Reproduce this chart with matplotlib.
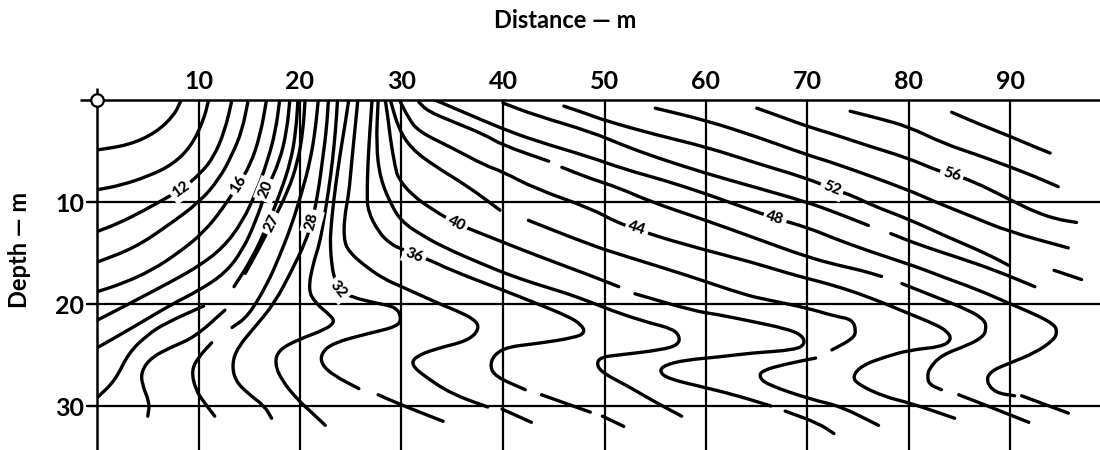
import numpy as np
import matplotlib
matplotlib.use("Agg")
import matplotlib.pyplot as plt
from matplotlib.path import Path
from matplotlib.patches import PathPatch

plt.rcParams['font.family'] = ['Lato', 'DejaVu Sans']

# grid (m)
x_grid = [0, 10, 20, 30, 40, 50, 60, 70, 80, 90]
depth_grid = [0, 10, 20, 30]
x_ticks = [10, 20, 30, 40, 50, 60, 70, 80, 90]
depth_ticks = [10, 20, 30]

# contour lines: (distance m, depth m); None = break in the line
c08 = [(8.3, 0), (7.6, 1.5), (5.8, 3.2), (3.2, 4.4), (0, 4.9)]
c10 = [(11.0, 0), (10.5, 2.0), (9.3, 4.5), (7.5, 6.3), (5.0, 7.5), (2.2, 8.4), (0, 8.8)]
c12 = [(13.3, 0), (12.6, 3.0), (11.5, 5.6), (10.2, 7.2), (8.3, 8.8), (7.0, 9.5), (4.7, 10.8),
       (2.1, 12.1), (0, 12.9)]
c14 = [(14.9, 0), (14.3, 3), (13.3, 5.4), (12.0, 7.8), (10.1, 10.0), (7.0, 12.3), (3.7, 14.5),
       (0, 15.9)]
c16 = [(16.7, 0), (16.1, 3.4), (15.1, 6.4), (13.9, 8.3), (12.5, 10.5), (10.5, 13), (8.0, 15),
       (5.4, 16.7), (2.5, 18.0), (0, 18.8)]
c18 = [(18.0, 0), (17.6, 3), (16.8, 6), (15.7, 9), (14.3, 12), (12.4, 14.5), (10, 16.3),
       (7.7, 17.6), (3.7, 19.7), (0, 21.6)]
c20 = [(19.0, 0), (18.7, 3), (18.0, 6), (16.7, 8.8), (15.6, 12), (14.3, 14.8), (12.6, 17.0),
       (10, 18.7), (7.4, 20.0), (3.7, 22.2), (0, 24.3)]
c22 = [(19.8, 0), (19.6, 3), (19.1, 6), (18.1, 9), (16.7, 12.5), (15.3, 15.5), (13.5, 18.3),
       None, (10.5, 20.2), (6.7, 21.9), (5.0, 23.0), (3.1, 24.8), (1.8, 27.5), (0, 29.2)]
c24 = [(20.5, 0), (20.3, 3), (19.8, 6), (18.8, 9), (17.2, 12.1), (16.0, 14.5), (14.6, 17),
       None, (12.6, 20.6), (9.7, 23.2), (7.4, 24.2), (5.4, 25.2), (4.4, 26.5), (4.4, 27.8),
       (5.2, 29.7), (5.0, 31.0)]
c26 = [(21.8, 0), (21.5, 3), (21.0, 6), (20.2, 9), (19.1, 12.5), (17.9, 15.5), (16.8, 18),
       (14.9, 21.2), (13.3, 22.3), None, (11.3, 23.8), (10, 25.2), (9.3, 26.5), (9.7, 28.4),
       (10.6, 29.7), (11.6, 31.0)]
c28 = [(22.8, 0), (22.6, 3), (22.2, 6), (21.8, 9), (21.2, 11.9), (20.5, 14), (19.2, 16.7),
       (17.5, 19.9), (15.6, 22.2), (13.9, 24.2), (13.3, 25.8), (13.6, 27.5), (14.9, 28.8),
       (16.5, 30.0), (17.2, 31.2)]
c30 = [(23.7, 0), (23.5, 3), (23.2, 6), (22.8, 9), (22.3, 12), (21.9, 14.2), (21.3, 16),
       (20.8, 18.6), (21.5, 19.9), (23.1, 21.2), (23.4, 21.8), (22.5, 22.5), (19.8, 23.5),
       (17.9, 24.5), (17.5, 25.8), (18.2, 27.5), (19.8, 29.4), (21.0, 30.5), (22.5, 31.9)]
c32 = [(24.8, 0), (24.5, 2), (24.1, 4.4), (23.7, 7), (23.3, 10), (23.0, 13), (23.0, 14.5),
       (23.1, 15.8), (23.3, 17.2), (23.8, 18.6), (25.0, 19.3), (27.4, 19.9), (29.5, 20.3),
       (30.0, 21.4), (29.6, 22.2), (26.7, 22.9), (23.3, 23.8), (22.1, 24.8), (22.1, 25.9),
       (23.3, 27.0), (25.8, 28.3), None, (27.7, 28.9), (30.0, 29.9), (34.1, 31.5)]
c34 = [(25.7, 0), (25.4, 3), (25.1, 6), (24.8, 9.3), (24.4, 11.3), (24.3, 13.6), (24.8, 14.9),
       (26.7, 16.5), (28.4, 17.6), (30.0, 18.3), (34.0, 20.1), (35.3, 20.6), (37.2, 21.5),
       (37.7, 22.4), (36.6, 23.6), (33.3, 24.4), (31.3, 25.2), (31.0, 26.0), (32.3, 27.1),
       (34.9, 28.8), (38.5, 30.1), None, (39.9, 30.3), (42.8, 31.6)]
c36 = [(27.1, 0), (26.9, 2.8), (26.7, 6.0), (26.6, 9.3), (26.7, 10.9), (27.7, 12.9),
       (29.0, 14.2), (30.3, 14.7), (31.3, 15.2), (32.6, 15.6), (34.9, 16.7), (39.9, 18.6),
       (43.2, 19.9), (46.4, 21.2), (47.7, 22.0), (48.1, 22.8), (47.1, 23.3), (43.2, 23.9),
       (40.5, 24.2), (39.2, 24.9), (38.7, 26.0), (39.2, 27.1), (42.2, 28.4), None,
       (43.8, 28.9), (48.6, 30.6), None, (49.8, 31.0), (51.9, 32.0)]
c38 = [(27.7, 0), (27.5, 4.4), (27.9, 7.7), (29.0, 10.3), (30.0, 11.9), (31.9, 13.2),
       (34.3, 14.5), (38, 16.1), (41, 17.3), (44.1, 18.3), (46.4, 19.0), (48.6, 19.8),
       (51.4, 20.9), (54.6, 21.9), (56.6, 22.4), (57.4, 23.1), (57.3, 24.0), (55.6, 24.5),
       (51.4, 25.0), (49.7, 25.2), (49.2, 25.8), (49.7, 26.7), (52.4, 28.1), (54.6, 29.4),
       (57.6, 31.0)]
c40 = [(28.4, 0), (28.7, 2), (28.9, 3.8), (29.4, 6.7), (29.7, 7.7), (31.0, 9.3), (33.3, 10.9),
       (35.4, 12.1), (36.6, 12.6), (39.9, 13.9), (43.2, 15.2), (48.6, 17.2), (51.4, 18.3), None,
       (53, 19), (58.9, 20.7), (61, 21.0), (64.5, 21.7), (67.8, 22.4), (69.4, 23.0),
       (69.8, 23.9), (68.8, 24.5), (64.5, 24.8), (61.2, 25.2), (57.9, 25.5), (55.9, 26.0),
       (55.4, 26.6), (56.2, 27.3), (59.5, 28.1), (62.8, 28.9), (66.4, 30.0), None,
       (67.8, 30.5), (71.1, 31.7), (72.6, 32.7)]
c42 = [(28.9, 0), (29.7, 2.8), (31.0, 4.8), (33.3, 6.5), (36.6, 8.5), (39.7, 10.8), None,
       (42.5, 11.8), (48.6, 14.2), (52, 15.3), (58.2, 17.2), (63.8, 19.1), (66.1, 19.6),
       (70, 20.4), (72.7, 21.2), (74.4, 21.5), (74.8, 22.6), (74.5, 23.4), (72.4, 24.5), None,
       (70.8, 25.3), (67.8, 25.9), (65.6, 26.5), (65.2, 27.1), (66.0, 27.9), (70.5, 29.4),
       (73.2, 30.0), (77, 31.9)]
c44 = [(29.8, 0), (30.7, 1.8), (31.7, 3.1), (35, 4.7), (38.2, 6.4), (39.9, 7.0), (43.2, 8.7),
       (48.6, 10.6), (51.4, 12.1), (53.2, 12.6), (54.6, 13.2), (59.5, 14.6), (64.5, 15.9),
       (67.8, 16.9), (70, 17.5), (72.7, 18.2), (76, 19.3), (79.9, 20.9), (82.6, 22.0),
       (83.8, 22.7), (84.2, 23.5), (83.2, 24.2), (80.1, 24.5), (77.6, 25.2), (75.4, 26.0),
       (74.4, 27.1), (75.0, 27.9), (77.6, 29.1), (80.1, 29.7), (84.5, 31.2)]
c46 = [(31.7, 0.2), (32.6, 1.1), (35, 2.1), (38.2, 3.4), (39.9, 4.4), (44.5, 6.0), None,
       (45.8, 6.6), (48.6, 7.7), (51.4, 8.6), (54.6, 10.0), (60, 11.8), (65, 13.6), (70, 15.4),
       (73, 16.2), (75.3, 16.7), (77.3, 17.3), None, (79.3, 18.0), (82.6, 19.3), (85.9, 20.6),
       (87.5, 21.6), (87.6, 22.5), (87.3, 23.2), (85.9, 24.0), (83.2, 25.0), (82.0, 26.3),
       (81.8, 27.1), (82.0, 27.9), (83.2, 28.4), None, (84.9, 28.9), (87.5, 29.9), (91.8, 31.6)]
c48 = [(33.3, 0), (36.6, 1.4), (39.9, 2.8), (43.2, 4.0), (48.6, 5.6), (52, 6.8), (56, 7.9),
       (60, 9.2), (62.2, 10), (66.8, 11.6), (70, 12.5), (72.7, 13.6), (76, 14.8), (80.9, 16.4),
       (83.2, 17.3), (86.8, 18.6), (90.0, 20.0), (92.4, 21.0), (94.3, 22.0), (94.6, 22.7),
       (94.3, 23.5), (92.4, 24.8), (89.9, 25.8), (88.0, 26.6), (87.6, 27.6), (88.5, 28.7),
       (90.4, 29.0), None, (91.1, 29.0), (95.7, 30.7)]
c50 = [(40.0, 0.3), (43.2, 1.5), (48.6, 3.1), (52, 4.5), (55, 5.6), (60, 7.2), (65, 8.6),
       (69.9, 10.0), (72.7, 11.0), (76, 12.3), None, (78.2, 13.1), (81, 14.2), (85, 15.5),
       (88.5, 16.7), (92.4, 18.3)]
c52 = [(46.0, 0.6), (48.1, 1.3), (50, 2.0), (55, 3.4), (60, 4.6), (65, 6.2), (70, 7.7),
       (72.4, 8.7), (74.5, 9.4), (76.3, 10.3), (80, 11.7), (83.5, 13.3), (87.5, 15.0),
       (89.8, 16.2), None, (94.3, 16.7), (97.0, 17.6)]
c54 = [(55.0, 0.8), (60, 2.0), (65, 3.6), (70, 5.4), (72.7, 6.2), (79.9, 8.8), (82.6, 10),
       (85.9, 11.3), (89.8, 12.9), (95.7, 14.5)]
c56 = [(65.0, 0.8), (67, 1.5), (70, 2.6), (72.7, 3.4), (76, 4.5), (79.9, 5.7), (82.5, 6.8),
       (84.2, 7.35), (86, 7.8), (90.4, 10.0), (92.5, 11.0), (94.6, 11.7), (96.5, 12.0)]
c58 = [(74.2, 1.1), (77, 1.8), (79.9, 2.6), (83.5, 4.3), (86.8, 5.4), (89.8, 6.5), (92.4, 7.5),
       (94.7, 8.5)]
c60 = [(84.2, 1.2), (87, 2.4), (89.8, 3.5), (92.4, 4.6), (93.9, 5.2)]

contours = [c08, c10, c12, c14, c16, c18, c20, c22, c24, c26, c28, c30, c32, c34,
            c36, c38, c40, c42, c44, c46, c48, c50, c52, c54, c56, c58, c60]

# inline labels
label_text = ["12", "16", "20", "27", "28", "32", "36", "40", "44", "48", "52", "56"]
label_line = [c12, c16, c20, c24, c28, c32, c36, c40, c44, c48, c52, c56]
label_x = [8.3, 13.9, 16.7, 17.2, 21.2, 23.8, 31.3, 35.4, 53.2, 66.8, 72.4, 84.2]
label_d = [8.8, 8.3, 8.8, 12.1, 11.9, 18.6, 15.2, 12.1, 12.6, 11.6, 8.7, 7.35]


def to_xy(pts):
    x = np.array([np.nan if p is None else p[0] for p in pts], float)
    y = np.array([np.nan if p is None else p[1] for p in pts], float)
    return x, y


def pieces(pts):
    out, cur = [], []
    for p in pts:
        if p is None:
            if cur:
                out.append(cur)
            cur = []
        else:
            cur.append(p)
    if cur:
        out.append(cur)
    return out


def smooth_path(seg):
    # quadratic bezier through midpoints, corners rounded by the renderer
    p = np.array(seg, float)
    if len(p) < 3:
        return Path(p)
    verts = [p[0], (p[0] + p[1]) / 2]
    codes = [Path.MOVETO, Path.LINETO]
    for i in range(1, len(p) - 1):
        verts += [p[i], (p[i] + p[i + 1]) / 2]
        codes += [Path.CURVE3, Path.CURVE3]
    verts.append(p[-1])
    codes.append(Path.LINETO)
    return Path(verts, codes)


fig = plt.figure(figsize=(11, 4.5), dpi=100)
ax = fig.add_axes([97 / 1100, 0, 1003 / 1100, 350 / 450])
ax.set_xlim(0, 1003 / 10.15)
ax.set_ylim(350 / 10.2, 0)
for s in ax.spines.values():
    s.set_visible(False)

# grid frame
ax.vlines(x_grid[1:], 0, 40, color="black", lw=1.6, clip_on=False)
ax.vlines(x_grid[0], -1.2, 40, color="black", lw=1.8, clip_on=False)
ax.hlines(depth_grid[1:], -0.9, 100, color="black", lw=1.6, clip_on=False)
ax.hlines(depth_grid[0], -1.7, 100, color="black", lw=1.8, clip_on=False)
ax.plot([0], [0], marker="o", ms=9, mfc="white", mec="black", mew=1.6,
        clip_on=False, zorder=10)

for c in contours:
    for seg in pieces(c):
        ax.add_patch(PathPatch(smooth_path(seg), fill=False, ec="black", lw=2.4,
                               capstyle="round", joinstyle="round", zorder=3))

# labels rotated along their line
fig.canvas.draw()
for txt, line, lx, ld in zip(label_text, label_line, label_x, label_d):
    x, y = to_xy(line)
    ok = ~np.isnan(x)
    xs, ys = x[ok], y[ok]
    i = int(np.argmin((xs - lx) ** 2 + (ys - ld) ** 2))
    i0, i1 = max(i - 1, 0), min(i + 1, len(xs) - 1)
    p0 = ax.transData.transform((xs[i0], ys[i0]))
    p1 = ax.transData.transform((xs[i1], ys[i1]))
    ang = np.degrees(np.arctan2(p1[1] - p0[1], p1[0] - p0[0]))
    if ang > 90:
        ang -= 180
    if ang < -90:
        ang += 180
    ax.text(lx, ld, txt, rotation=ang, rotation_mode="anchor", ha="center", va="center",
            fontsize=11, fontweight="black", zorder=5,
            bbox=dict(boxstyle="square,pad=0.2", fc="white", ec="none"))

ax.xaxis.tick_top()
ax.set_xticks(x_ticks)
ax.set_xticklabels([str(v) for v in x_ticks])
ax.tick_params(axis="x", length=0, pad=5, labelsize=18)
ax.set_yticks(depth_ticks)
ax.set_yticklabels([str(v) for v in depth_ticks])
ax.tick_params(axis="y", length=8, width=1.6, pad=1, labelsize=18, direction="out")
for lab in ax.get_xticklabels() + ax.get_yticklabels():
    lab.set_fontweight("bold")

fig.text(565 / 1100, 1 - 20 / 450, "Distance — m", ha="center", va="center",
         fontsize=17, fontweight="bold")
fig.text(20 / 1100, 1 - 250 / 450, "Depth — m", ha="center", va="center",
         rotation=90, fontsize=17, fontweight="bold")

fig.savefig("out.png", dpi=100)
